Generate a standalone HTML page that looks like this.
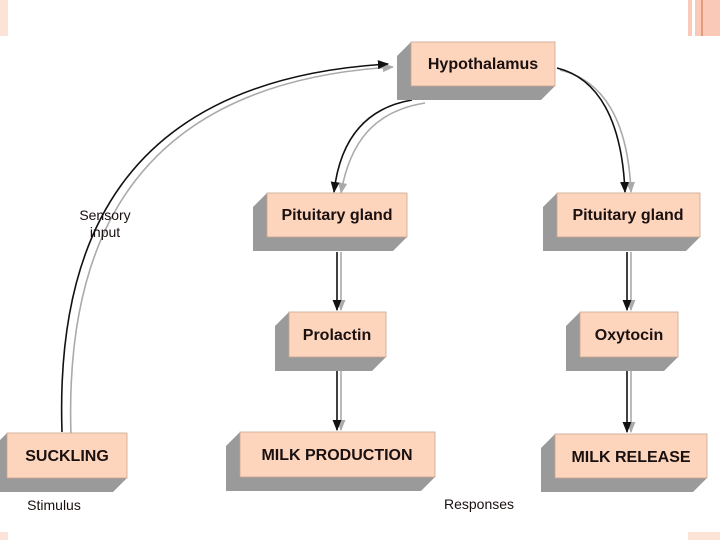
<!DOCTYPE html>
<html><head><style>
body{margin:0;background:#fff;}
svg{display:block;font-family:"Liberation Sans",Arial,sans-serif;font-weight:bold;}
</style></head><body>
<svg width="720" height="540" viewBox="0 0 720 540" xmlns="http://www.w3.org/2000/svg">
<defs>
<marker id="a" viewBox="0 0 10 10" refX="9" refY="5" markerWidth="7" markerHeight="7" orient="auto"><path d="M0,1 L10,5 L0,9 Z" fill="#111"/></marker>
<marker id="g" viewBox="0 0 10 10" refX="9" refY="5" markerWidth="7" markerHeight="7" orient="auto"><path d="M0,1 L10,5 L0,9 Z" fill="#aaa"/></marker>
</defs>
<!-- decorations -->
<rect x="688" y="0" width="32" height="36" fill="#fbc9b8"/>
<rect x="692" y="0" width="3" height="36" fill="#fff"/>
<rect x="701" y="0" width="2" height="36" fill="#e79a7a"/>
<rect x="0" y="0" width="8" height="36" fill="#fde2d8"/>
<rect x="0" y="532" width="8" height="8" fill="#fde2d8"/>
<rect x="688" y="532" width="32" height="8" fill="#fde2d8"/>

<g stroke-width="1.6" fill="none">
<!-- sensory input -->
<path d="M66,432 C60,250 120,80 388,64" stroke="#aaa" transform="translate(5,3)" marker-end="url(#g)"/>
<path d="M62,432 C56,250 116,80 388,64" stroke="#111" marker-end="url(#a)"/>
<!-- hypothalamus to left pituitary -->
<path d="M420,102 C370,110 345,140 336,192" stroke="#aaa" transform="translate(5,1)" marker-end="url(#g)"/>
<path d="M412,100 C365,108 340,140 334,192" stroke="#111" marker-end="url(#a)"/>
<!-- hypothalamus to right pituitary -->
<path d="M557,70 C600,80 625,120 628,192" stroke="#aaa" transform="translate(3,0)" marker-end="url(#g)"/>
<path d="M557,68 C598,78 622,120 625,192" stroke="#111" marker-end="url(#a)"/>
<!-- verticals -->
<path d="M341,252 V310" stroke="#aaa" marker-end="url(#g)"/>
<path d="M337,252 V310" stroke="#111" marker-end="url(#a)"/>
<path d="M341,371 V430" stroke="#aaa" marker-end="url(#g)"/>
<path d="M337,371 V430" stroke="#111" marker-end="url(#a)"/>
<path d="M631,252 V310" stroke="#aaa" marker-end="url(#g)"/>
<path d="M627,252 V310" stroke="#111" marker-end="url(#a)"/>
<path d="M631,371 V432" stroke="#aaa" marker-end="url(#g)"/>
<path d="M627,371 V432" stroke="#111" marker-end="url(#a)"/>
</g>

<g fill="#9a9a9a">
<polygon points="411,42 397,56 397,100 541,100 555,86 555,42"/>
<polygon points="7,433 -7,447 -7,492 113,492 127,478 127,433"/>
<polygon points="267,193 253,207 253,251 393,251 407,237 407,193"/>
<polygon points="289,312 275,326 275,371 372,371 386,357 386,312"/>
<polygon points="240,432 226,446 226,491 421,491 435,477 435,432"/>
<polygon points="557,193 543,207 543,251 686,251 700,237 700,193"/>
<polygon points="580,312 566,326 566,371 664,371 678,357 678,312"/>
<polygon points="555,434 541,448 541,492 693,492 707,478 707,434"/>
</g>
<g fill="#fdd5bd" stroke="#c9a58e" stroke-width="0.8">
<rect x="411" y="42" width="144" height="44"/>
<rect x="7" y="433" width="120" height="45"/>
<rect x="267" y="193" width="140" height="44"/>
<rect x="289" y="312" width="97" height="45"/>
<rect x="240" y="432" width="195" height="45"/>
<rect x="557" y="193" width="143" height="44"/>
<rect x="580" y="312" width="98" height="45"/>
<rect x="555" y="434" width="152" height="44"/>
</g>
<g fill="#1a1010" font-size="16" text-anchor="middle">
<text x="483" y="69">Hypothalamus</text>
<text x="67" y="461">SUCKLING</text>
<text x="337" y="220">Pituitary gland</text>
<text x="337" y="340">Prolactin</text>
<text x="337" y="460">MILK PRODUCTION</text>
<text x="628" y="220">Pituitary gland</text>
<text x="629" y="340">Oxytocin</text>
<text x="631" y="462">MILK RELEASE</text>
</g>
<g fill="#1a1010" font-size="14" font-weight="normal" text-anchor="middle" style="font-weight:normal">
<text x="105" y="220">Sensory</text>
<text x="105" y="237">input</text>
<text x="54" y="510">Stimulus</text>
<text x="479" y="509">Responses</text>
</g>
</svg>
</body></html>
